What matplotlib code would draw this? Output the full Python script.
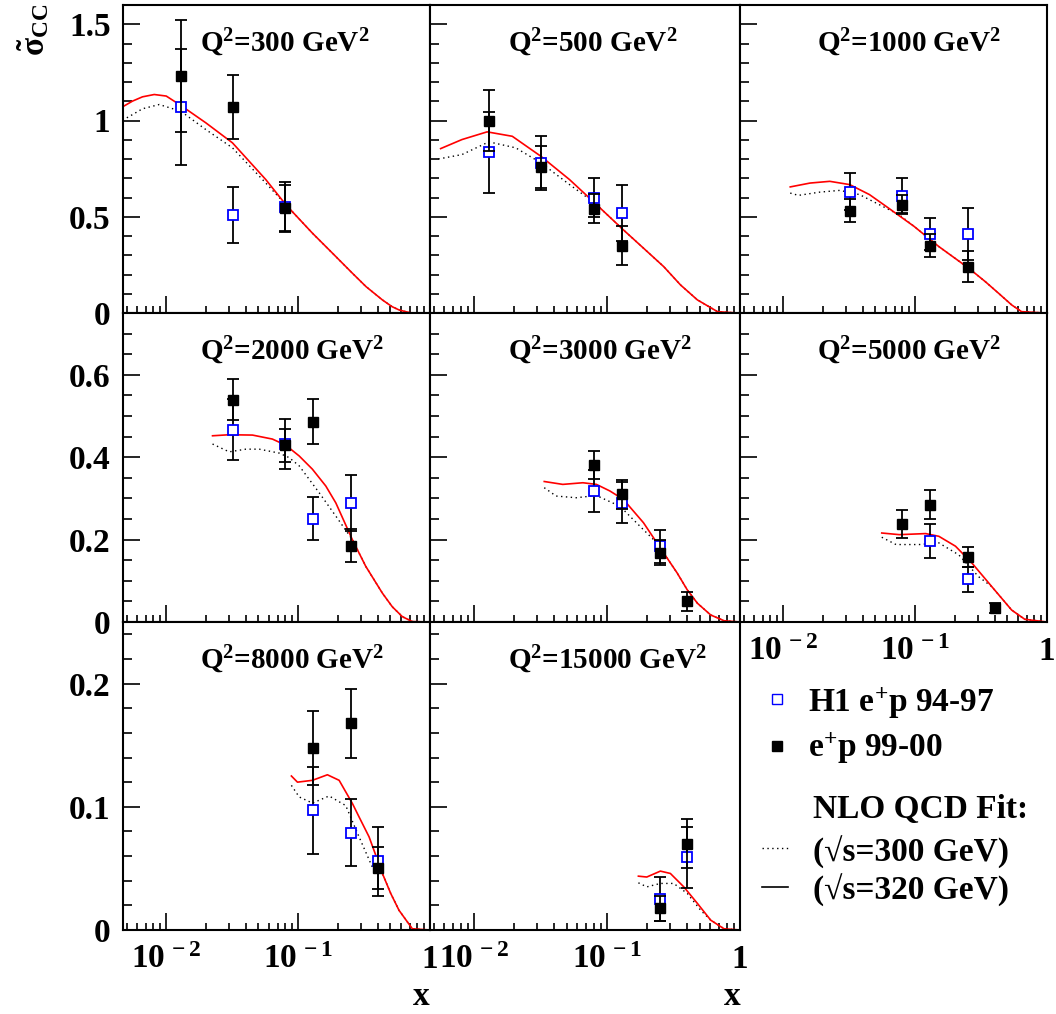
import matplotlib
matplotlib.use('Agg')
import math
import numpy as np
import matplotlib.pyplot as plt
from matplotlib.ticker import LogLocator, MultipleLocator, FuncFormatter, NullFormatter

plt.rcParams['font.family'] = ['Liberation Serif', 'DejaVu Serif']
plt.rcParams['font.weight'] = 'bold'
plt.rcParams['mathtext.fontset'] = 'custom'
plt.rcParams['mathtext.rm'] = 'Liberation Serif:bold'
plt.rcParams['mathtext.bf'] = 'Liberation Serif:bold'
plt.rcParams['mathtext.it'] = 'Liberation Serif:italic:bold'
plt.rcParams['mathtext.default'] = 'rm'

# ---------------- data ----------------
q2_values = [300, 500, 1000, 2000, 3000, 5000, 8000, 15000]

# H1 e+p 94-97 (open blue squares)
x_9497 = [[0.013, 0.032, 0.08], [0.013, 0.032, 0.08, 0.13], [0.032, 0.08, 0.13, 0.25],
          [0.032, 0.08, 0.13, 0.25], [0.08, 0.13, 0.25], [0.13, 0.25],
          [0.13, 0.25, 0.40], [0.25, 0.40]]
y_9497 = [[1.07, 0.51, 0.553], [0.835, 0.78, 0.60, 0.52], [0.63, 0.61, 0.41, 0.41],
          [0.467, 0.432, 0.251, 0.289], [0.318, 0.29, 0.184], [0.197, 0.104],
          [0.097, 0.079, 0.056], [0.025, 0.059]]
e_9497 = [[0.30, 0.147, 0.13], [0.21, 0.14, 0.10, 0.145], [0.095, 0.09, 0.085, 0.135],
          [0.075, 0.06, 0.052, 0.068], [0.05, 0.05, 0.04], [0.042, 0.03],
          [0.035, 0.027, 0.028], [0.018, 0.025]]

# e+p 99-00 (filled black squares)
x_9900 = [[0.013, 0.032, 0.08], [0.013, 0.032, 0.08, 0.13], [0.032, 0.08, 0.13, 0.25],
          [0.032, 0.08, 0.13, 0.25], [0.08, 0.13, 0.25, 0.40], [0.08, 0.13, 0.25, 0.40],
          [0.13, 0.25, 0.40], [0.25, 0.40]]
y_9900 = [[1.23, 1.07, 0.547], [1.00, 0.76, 0.542, 0.35], [0.531, 0.5625, 0.35, 0.241],
          [0.54, 0.429, 0.486, 0.185], [0.381, 0.31, 0.168, 0.05], [0.237, 0.285, 0.158, 0.033],
          [0.148, 0.168, 0.05], [0.0175, 0.07]]
e_9900 = [[0.29, 0.165, 0.12], [0.16, 0.11, 0.075, 0.10], [0.06, 0.05, 0.06, 0.08],
          [0.05, 0.04, 0.055, 0.04], [0.035, 0.035, 0.03, 0.024], [0.034, 0.036, 0.025, 0.012],
          [0.03, 0.028, 0.017], [0.01, 0.02]]

# NLO QCD fit, sqrt(s)=320 GeV (red solid): log10(x) and sigma values
fit320_logx = [
    [-2.331, -2.255, -2.18, -2.091, -2.0, -1.889, -1.70, -1.498, -1.245, -1.093, -0.892, -0.74,
     -0.589, -0.485, -0.361, -0.288, -0.235, -0.18, -0.136, 0.0],
    [-2.248, -2.088, -1.899, -1.71, -1.495, -1.28, -1.09, -0.876, -0.725, -0.573, -0.447, -0.32,
     -0.169, -0.017, 0.0],
    [-1.947, -1.797, -1.647, -1.496, -1.346, -1.22, -1.008, -0.82, -0.594, -0.468, -0.368, -0.268,
     -0.193, -0.013, 0.0],
    [-1.649, -1.523, -1.346, -1.195, -1.093, -0.992, -0.892, -0.79, -0.714, -0.589, -0.487, -0.361,
     -0.286, -0.21, -0.134, 0.0],
    [-1.47, -1.331, -1.18, -1.078, -0.977, -0.876, -0.725, -0.573, -0.472, -0.396, -0.32, -0.22,
     -0.119, 0.0],
    [-1.253, -1.12, -0.92, -0.82, -0.694, -0.569, -0.419, -0.268, -0.168, 0.0],
    [-1.051, -1.005, -0.891, -0.778, -0.689, -0.588, -0.538, -0.462, -0.361, -0.298, -0.235,
     -0.134, 0.0],
    [-0.763, -0.70, -0.598, -0.523, -0.422, -0.32, -0.22, -0.12, 0.0],
]
fit320_y = [
    [1.071, 1.101, 1.123, 1.135, 1.127, 1.078, 0.988, 0.884, 0.693, 0.5625, 0.415, 0.311,
     0.207, 0.137, 0.068, 0.033, 0.016, 0.006, 0.0, 0.0],
    [0.854, 0.901, 0.941, 0.918, 0.814, 0.693, 0.571, 0.432, 0.337, 0.241, 0.146, 0.068,
     0.007, 0.0, 0.0],
    [0.655, 0.675, 0.684, 0.667, 0.615, 0.554, 0.45, 0.345, 0.233, 0.163, 0.103, 0.042,
     0.007, 0.0, 0.0],
    [0.452, 0.4545, 0.4537, 0.444, 0.429, 0.403, 0.371, 0.33, 0.289, 0.200, 0.135, 0.07,
     0.037, 0.013, 0.001, 0.0],
    [0.341, 0.334, 0.338, 0.334, 0.318, 0.2976, 0.241, 0.1675, 0.119, 0.078, 0.0456, 0.017,
     0.003, 0.0],
    [0.216, 0.212, 0.2146, 0.208, 0.184, 0.143, 0.086, 0.029, 0.0065, 0.0],
    [0.125, 0.120, 0.1215, 0.126, 0.1215, 0.1026, 0.0918, 0.0756, 0.0459, 0.0297, 0.016,
     0.001, 0.0],
    [0.0437, 0.043, 0.0478, 0.0459, 0.035, 0.0216, 0.008, 0.001, 0.0],
]

# NLO QCD fit, sqrt(s)=300 GeV (black dotted)
fit300_logx = [
    [-2.331, -2.255, -2.18, -2.053, -1.889, -1.70, -1.498, -1.245, -1.093, -0.892, -0.74,
     -0.589, -0.485, -0.361, -0.288, -0.235, -0.18, -0.136, 0.0],
    [-2.265, -2.088, -1.886, -1.684, -1.495, -1.28, -1.09, -0.876, -0.725, -0.573, -0.447,
     -0.32, -0.169, -0.017, 0.0],
    [-1.947, -1.885, -1.722, -1.571, -1.421, -1.271, -1.12, -1.008, -0.82, -0.594, -0.468,
     -0.368, -0.268, -0.193, -0.013, 0.0],
    [-1.649, -1.523, -1.396, -1.295, -1.144, -1.068, -0.992, -0.841, -0.714, -0.589, -0.487,
     -0.361, -0.286, -0.21, -0.134, 0.0],
    [-1.47, -1.381, -1.23, -1.078, -0.902, -0.725, -0.624, -0.573, -0.472, -0.396, -0.32,
     -0.22, -0.119, 0.0],
    [-1.253, -1.145, -0.97, -0.82, -0.669, -0.519, -0.419, -0.268, -0.168, 0.0],
    [-1.051, -0.992, -0.891, -0.765, -0.639, -0.538, -0.437, -0.361, -0.298, -0.235, -0.134, 0.0],
    [-0.763, -0.70, -0.598, -0.498, -0.396, -0.295, -0.22, -0.12, 0.0],
]
fit300_y = [
    [1.0016, 1.031, 1.061, 1.083, 1.048, 0.953, 0.858, 0.675, 0.5625, 0.415, 0.311,
     0.207, 0.137, 0.068, 0.033, 0.016, 0.006, 0.0, 0.0],
    [0.80, 0.823, 0.889, 0.858, 0.78, 0.667, 0.571, 0.432, 0.337, 0.241, 0.146,
     0.068, 0.007, 0.0, 0.0],
    [0.623, 0.611, 0.628, 0.637, 0.615, 0.5625, 0.51, 0.45, 0.345, 0.233, 0.163,
     0.103, 0.042, 0.007, 0.0, 0.0],
    [0.432, 0.413, 0.4195, 0.4195, 0.41, 0.399, 0.379, 0.314, 0.257, 0.200, 0.135,
     0.07, 0.037, 0.013, 0.001, 0.0],
    [0.326, 0.3057, 0.3016, 0.307, 0.281, 0.224, 0.192, 0.1675, 0.119, 0.078, 0.0456,
     0.017, 0.003, 0.0],
    [0.2057, 0.188, 0.188, 0.192, 0.163, 0.11, 0.086, 0.029, 0.0065, 0.0],
    [0.1174, 0.108, 0.103, 0.1088, 0.101, 0.0756, 0.051, 0.0459, 0.0297, 0.016, 0.001, 0.0],
    [0.0383, 0.035, 0.0378, 0.0378, 0.0297, 0.016, 0.008, 0.001, 0.0],
]

row_ymax = [1.6, 0.75, 0.25]
row_major = [0.5, 0.2, 0.1]
row_minor = [0.1, 0.05, 0.02]
x_range = (0.0047, 1.0)

legend_labels = ['H1 e$^{+}$p 94-97', 'e$^{+}$p 99-00', 'NLO QCD Fit:',
                 '(\u221As=300 GeV)', '(\u221As=320 GeV)']

# ---------------- layout ----------------
W, H = 1056, 1014
fig = plt.figure(figsize=(W / 100, H / 100), dpi=100)
col_left = [123, 430, 740]
col_w = [307, 310, 307]
row_top = [5, 313, 622]
row_h = [308, 309, 308]


def xfmt(v, pos):
    if abs(v - 1.0) < 1e-9:
        return '1'
    e = int(round(math.log10(v)))
    return r'$10^{\,%d}$' % e


def yfmt(v, pos):
    return '%g' % round(v, 3)


for i, q2 in enumerate(q2_values):
    r, c = divmod(i, 3)
    l, w = col_left[c], col_w[c]
    t, h = row_top[r], row_h[r]
    ax = fig.add_axes([l / W, 1 - (t + h) / H, w / W, h / H])
    ax.set_xscale('log')
    ax.set_xlim(*x_range)
    ax.set_ylim(0, row_ymax[r])

    ax.plot(np.power(10.0, fit300_logx[i]), fit300_y[i], color='black',
            ls=(0, (1, 2.5)), lw=1.0, zorder=2)
    ax.plot(np.power(10.0, fit320_logx[i]), fit320_y[i], color='red', lw=1.2, zorder=2)

    ax.errorbar(x_9497[i], y_9497[i], yerr=e_9497[i], fmt='s', ms=6.8, mfc='white',
                mec='blue', mew=1.3, ecolor='black', elinewidth=1.3, capsize=4.3,
                capthick=1.3, zorder=3)
    ax.errorbar(x_9900[i], y_9900[i], yerr=e_9900[i], fmt='s', ms=7.2, mfc='black',
                mec='black', ecolor='black', elinewidth=1.3, capsize=4.3,
                capthick=1.3, zorder=4)

    ax.xaxis.set_major_locator(LogLocator(base=10, numticks=10))
    ax.xaxis.set_minor_locator(LogLocator(base=10, subs=range(2, 10), numticks=20))
    ax.xaxis.set_minor_formatter(NullFormatter())
    ax.xaxis.set_major_formatter(FuncFormatter(xfmt))
    ax.yaxis.set_major_locator(MultipleLocator(row_major[r]))
    ax.yaxis.set_minor_locator(MultipleLocator(row_minor[r]))
    ax.yaxis.set_major_formatter(FuncFormatter(yfmt))

    show_x = (r == 2) or (i == 5)
    ax.tick_params(axis='x', which='both', direction='in', top=False, bottom=True,
                   labelbottom=show_x, labelsize=24, pad=10, width=1.2)
    ax.tick_params(axis='x', which='major', length=12)
    ax.tick_params(axis='x', which='minor', length=5)
    ax.tick_params(axis='y', which='both', direction='in', right=False, left=True,
                   labelleft=(c == 0), labelsize=24, pad=9, width=1.2)
    ax.tick_params(axis='y', which='major', length=12)
    ax.tick_params(axis='y', which='minor', length=6.5)
    for s in ax.spines.values():
        s.set_linewidth(1.5)

    ax.text(0.25, 0.847, 'Q$^{2}$=%d GeV$^{2}$' % q2, transform=ax.transAxes,
            fontsize=21, fontweight='bold', ha='left', va='baseline')
    if r == 2:
        ax.text(1.0, -0.245, 'x', transform=ax.transAxes, fontsize=24,
                fontweight='bold', ha='right', va='baseline')

fig.text(33 / W, 1 - 4 / H, r'$\tilde{\mathrm{\sigma}}_{\mathrm{CC}}$', rotation=90,
         ha='center', va='top', fontsize=24)

# ---------------- legend ----------------
lax = fig.add_axes([740 / W, 0, (W - 740) / W, 1 - 640 / H])
lax.set_xlim(740, W)
lax.set_ylim(H, 640)
lax.axis('off')
lax.plot([777], [699], 's', ms=6.8, mfc='white', mec='blue', mew=1.0)
lax.plot([777], [746], 's', ms=6.5, color='black')
lax.plot([762, 788], [848, 848], color='black', ls=(0, (1, 2.5)), lw=1.0)
lax.plot([762, 788], [887, 887], color='black', lw=1.2)
lax.text(808, 712, legend_labels[0], fontsize=24, fontweight='bold', va='baseline')
lax.text(808, 757, legend_labels[1], fontsize=24, fontweight='bold', va='baseline')
lax.text(813, 818, legend_labels[2], fontsize=24, fontweight='bold', va='baseline')
lax.text(813, 862, legend_labels[3], fontsize=24, fontweight='bold', va='baseline')
lax.text(813, 900, legend_labels[4], fontsize=24, fontweight='bold', va='baseline')

fig.savefig('out.png', dpi=100)
